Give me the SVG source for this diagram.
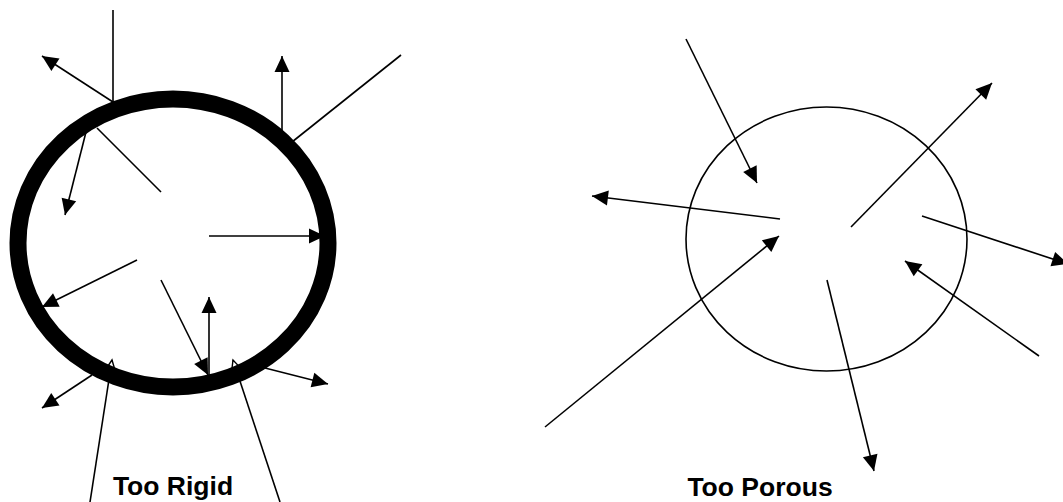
<svg xmlns="http://www.w3.org/2000/svg" width="1063" height="502" viewBox="0 0 1063 502">
<style>
.ln{stroke:#000;stroke-width:1.6;fill:none}
.ar{stroke:#000;stroke-width:1.6;fill:none;marker-end:url(#ah)}
.ao{stroke:#000;stroke-width:1.6;fill:none;marker-end:url(#ao)}
.lbl{font-family:"Liberation Sans",Arial,sans-serif;font-weight:bold;font-size:26.5px;fill:#000;text-anchor:middle}
</style>
<defs>
<marker id="ah" markerUnits="userSpaceOnUse" markerWidth="16" markerHeight="15" refX="16" refY="7.5" orient="auto" overflow="visible">
<path d="M0,0 L16,7.5 L0,15 z" fill="#000"/>
</marker>
<marker id="ao" markerUnits="userSpaceOnUse" markerWidth="16" markerHeight="15" refX="16" refY="7.5" orient="auto" overflow="visible">
<path d="M0,0 L16,7.5 L0,15 z" fill="#fff" stroke="#000" stroke-width="1.4"/>
</marker>
</defs>
<rect width="1063" height="502" fill="#fff"/>
<g id="connectors">
<line class="ln" x1="113" y1="10" x2="113" y2="103"/>
<line class="ar" x1="113" y1="102" x2="42" y2="56"/>
<line class="ln" x1="97" y1="128" x2="161" y2="192"/>
<line class="ar" x1="86" y1="132" x2="65" y2="215"/>
<line class="ar" x1="282" y1="132" x2="282" y2="56"/>
<line class="ln" x1="292" y1="142" x2="401" y2="55"/>
<line class="ar" x1="209" y1="236" x2="325" y2="236"/>
<line class="ar" x1="137" y1="260" x2="42" y2="307"/>
<line class="ar" x1="161" y1="280" x2="208" y2="375"/>
<line class="ar" x1="209" y1="375" x2="209" y2="297"/>
<line class="ar" x1="92" y1="375" x2="42" y2="408"/>
<line class="ar" x1="265" y1="368" x2="328" y2="384"/>
<line class="ao" x1="90" y1="502" x2="112" y2="360"/>
<line class="ao" x1="280" y1="502" x2="233" y2="360"/>
<line class="ar" x1="686" y1="39" x2="757" y2="183"/>
<line class="ar" x1="780" y1="219" x2="592" y2="196"/>
<line class="ar" x1="851" y1="227" x2="992" y2="83"/>
<line class="ar" x1="922" y1="216" x2="1068" y2="264"/>
<line class="ar" x1="545" y1="427" x2="779" y2="236"/>
<line class="ar" x1="1039" y1="356" x2="905" y2="261"/>
<line class="ar" x1="827" y1="280" x2="874" y2="471"/>
</g>
<g id="rigid-cell">
<ellipse cx="173" cy="243" rx="155" ry="144" fill="none" stroke="#000" stroke-width="17"/>
<text class="lbl" x="173" y="495">Too Rigid</text>
</g>
<g id="porous-cell">
<ellipse cx="826.5" cy="239" rx="140.5" ry="132" fill="none" stroke="#000" stroke-width="1.6"/>
<text class="lbl" x="760" y="496">Too Porous</text>
</g>
</svg>
